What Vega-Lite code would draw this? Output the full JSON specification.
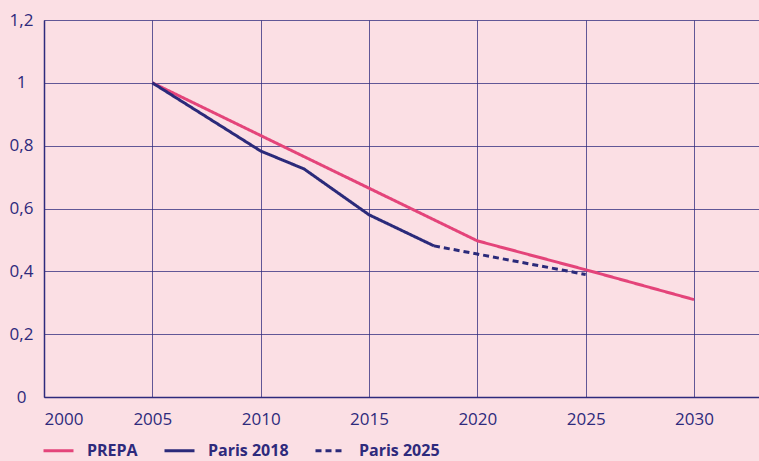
{
  "$schema": "https://vega.github.io/schema/vega-lite/v6.json",
  "width": 715,
  "height": 377,
  "autosize": {"type": "none"},
  "padding": {"left": 44, "top": 20, "right": 0, "bottom": 64},
  "background": "#fbdfe4",
  "config": {
    "view": {"stroke": null},
    "font": "Open Sans"
  },
  "data": {
    "values": [
      {"series": "PREPA", "year": 2005, "value": 1.0},
      {"series": "PREPA", "year": 2020, "value": 0.497},
      {"series": "PREPA", "year": 2025, "value": 0.405},
      {"series": "PREPA", "year": 2030, "value": 0.31},
      {"series": "Paris 2018", "year": 2005, "value": 1.0},
      {"series": "Paris 2018", "year": 2010, "value": 0.783},
      {"series": "Paris 2018", "year": 2012, "value": 0.726},
      {"series": "Paris 2018", "year": 2015, "value": 0.58},
      {"series": "Paris 2018", "year": 2018, "value": 0.481},
      {"series": "Paris 2025", "year": 2018, "value": 0.481},
      {"series": "Paris 2025", "year": 2020, "value": 0.455},
      {"series": "Paris 2025", "year": 2025, "value": 0.39}
    ]
  },
  "mark": {"type": "line", "strokeWidth": 3, "strokeCap": "butt", "clip": true},
  "encoding": {
    "x": {
      "field": "year",
      "type": "quantitative",
      "scale": {"domain": [2000, 2033], "nice": false, "zero": false},
      "axis": {
        "title": null,
        "values": [2000, 2005, 2010, 2015, 2020, 2025, 2030],
        "format": "d",
        "grid": true,
        "gridColor": "#2e2a7c",
        "gridOpacity": 0.75,
        "gridWidth": 1,
        "domainColor": "#2e2a7c",
        "domainWidth": 1.5,
        "ticks": false,
        "tickSize": 0,
        "labelPadding": 14,
        "labelFontSize": 17,
        "labelColor": "#2e2a7c",
        "labelFont": "Open Sans"
      }
    },
    "y": {
      "field": "value",
      "type": "quantitative",
      "scale": {"domain": [0, 1.2], "nice": false},
      "axis": {
        "title": null,
        "values": [0, 0.2, 0.4, 0.6, 0.8, 1, 1.2],
        "labelExpr": "replace(format(datum.value, '~g'), '.', ',')",
        "grid": true,
        "gridColor": "#2e2a7c",
        "gridOpacity": 0.75,
        "gridWidth": 1,
        "domainColor": "#2e2a7c",
        "domainWidth": 1.5,
        "ticks": false,
        "tickSize": 0,
        "labelAlign": "center",
        "labelPadding": 23,
        "labelFontSize": 17,
        "labelColor": "#2e2a7c",
        "labelFont": "Open Sans"
      }
    },
    "color": {
      "field": "series",
      "type": "nominal",
      "scale": {
        "domain": ["PREPA", "Paris 2018", "Paris 2025"],
        "range": ["#e4447a", "#2b2a7a", "#2b2a7a"]
      },
      "legend": {
        "title": null,
        "orient": "none",
        "direction": "horizontal",
        "legendX": -2,
        "legendY": 414,
        "symbolType": "stroke",
        "symbolSize": 900,
        "symbolStrokeWidth": 3,
        "labelFontSize": 16,
        "labelFontWeight": "bold",
        "labelColor": "#2e2a7c",
        "labelFont": "Open Sans",
        "labelOffset": 12,
        "columnPadding": 20
      }
    },
    "strokeDash": {
      "field": "series",
      "type": "nominal",
      "scale": {
        "domain": ["PREPA", "Paris 2018", "Paris 2025"],
        "range": [[1, 0], [1, 0], [6, 4]]
      },
      "legend": {
        "title": null,
        "orient": "none",
        "direction": "horizontal",
        "legendX": -2,
        "legendY": 414,
        "symbolType": "stroke",
        "symbolSize": 900,
        "symbolStrokeWidth": 3,
        "labelFontSize": 16,
        "labelFontWeight": "bold",
        "labelColor": "#2e2a7c",
        "labelFont": "Open Sans",
        "labelOffset": 12,
        "columnPadding": 20
      }
    }
  }
}
